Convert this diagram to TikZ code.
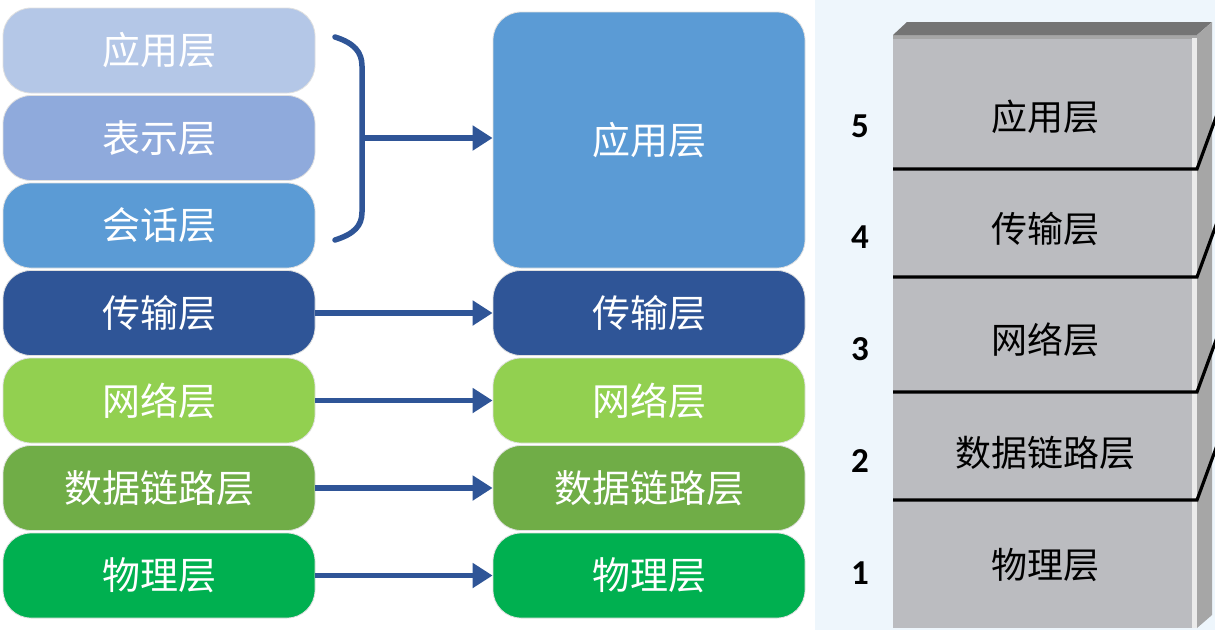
\documentclass[tikz,border=0pt]{standalone}
\usepackage{fontspec}
\newfontfamily\cjk{Noto Sans CJK SC}
\newfontfamily\numfont[BoldFont={Carlito Bold}]{Carlito}
\usetikzlibrary{arrows.meta}

\definecolor{appA}{HTML}{B4C7E7}
\definecolor{presB}{HTML}{8FAADC}
\definecolor{sessC}{HTML}{5B9BD5}
\definecolor{tranD}{HTML}{2F5597}
\definecolor{netE}{HTML}{92D050}
\definecolor{linkF}{HTML}{70AD47}
\definecolor{physG}{HTML}{00B050}
\definecolor{arrowblue}{HTML}{2F5597}
\definecolor{panelbg}{HTML}{EEF6FC}
\definecolor{frontgray}{HTML}{BBBCC0}
\definecolor{topgray}{HTML}{747474}
\definecolor{sidegray}{HTML}{A6A6A6}

\tikzset{
  layerbox/.style={rounded corners=28pt, minimum width=312pt, minimum height=85pt,
    inner sep=0pt, draw=black!12, line width=0.8pt, text=white,
    font={\cjk\fontsize{38}{40}\selectfont}},
  maparrow/.style={draw=arrowblue, line width=5.5pt,
    -{Triangle[length=20pt,width=24pt]}},
  bracket/.style={draw=arrowblue, line width=5.5pt, line cap=round},
  stacklabel/.style={font={\cjk\fontsize{36}{40}\selectfont}, text=black, inner sep=0pt},
  stacknum/.style={font={\numfont\bfseries\fontsize{35}{36}\selectfont}, text=black, inner sep=0pt},
  divider/.style={draw=black, line width=3.2pt}
}

\begin{document}
\begin{tikzpicture}[x=1pt, y=-1pt]
  \useasboundingbox (0,0) rectangle (1215,630);
  \clip (0,0) rectangle (1215,630);
  \fill[white] (0,0) rectangle (1215,630);
  \fill[panelbg] (815,0) rectangle (1215,630);

  % seven-layer column
  \node[layerbox, fill=appA]  (l7) at (159,50.5)  {应用层};
  \node[layerbox, fill=presB] (l6) at (159,138)   {表示层};
  \node[layerbox, fill=sessC] (l5) at (159,225.5) {会话层};
  \node[layerbox, fill=tranD] (l4) at (159,313)   {传输层};
  \node[layerbox, fill=netE]  (l3) at (159,400.5) {网络层};
  \node[layerbox, fill=linkF] (l2) at (159,488)   {数据链路层};
  \node[layerbox, fill=physG] (l1) at (159,575.5) {物理层};

  % five-layer column
  \node[layerbox, fill=sessC, minimum height=256pt] (r5) at (649,140) {应用层};
  \node[layerbox, fill=tranD] (r4) at (649,313)   {传输层};
  \node[layerbox, fill=netE]  (r3) at (649,400.5) {网络层};
  \node[layerbox, fill=linkF] (r2) at (649,488)   {数据链路层};
  \node[layerbox, fill=physG] (r1) at (649,575.5) {物理层};

  % brace grouping the three upper layers
  \coordinate (bm) at (362,138);
  \draw[bracket] (335,37) .. controls (354,43) and (362,52) .. (362,66)
    -- (362,212) .. controls (362,226) and (354,234) .. (335,240);
  \draw[maparrow] (bm) -- (bm -| r5.west);

  % one-to-one mappings
  \draw[maparrow] (l4.east) -- (r4.west);
  \draw[maparrow] (l3.east) -- (r3.west);
  \draw[maparrow] (l2.east) -- (r2.west);
  \draw[maparrow] (l1.east) -- (r1.west);

  % 3D stack: faces
  \fill[frontgray] (893,35) rectangle (1197,628);
  \fill[black!35] (893,35) rectangle (1197,38.5);
  \fill[black!8] (1192,38) rectangle (1197,628);
  \fill[topgray] (893,35) -- (907,22) -- (1212,22) -- (1197,35) -- cycle;
  \fill[sidegray] (1197,35) -- (1212,22) -- (1212,615) -- (1197,628) -- cycle;

  % layer dividers running onto the side face
  \foreach \yy in {169,277,392,500}
    \draw[divider] (893,\yy) -- (1197,\yy) -- (1219,\yy-60);

  % stack labels
  \node[stacklabel] (s5) at (1045,117) {应用层};
  \node[stacklabel] (s4) at (1045,229) {传输层};
  \node[stacklabel] (s3) at (1045,340) {网络层};
  \node[stacklabel] (s2) at (1045,453) {数据链路层};
  \node[stacklabel] (s1) at (1045,565) {物理层};

  % layer numbers
  \node[stacknum] (n5) at (860,126) {5};
  \node[stacknum] (n4) at (860,237) {4};
  \node[stacknum] (n3) at (860,349) {3};
  \node[stacknum] (n2) at (860,461) {2};
  \node[stacknum] (n1) at (860,573) {1};
\end{tikzpicture}
\end{document}
